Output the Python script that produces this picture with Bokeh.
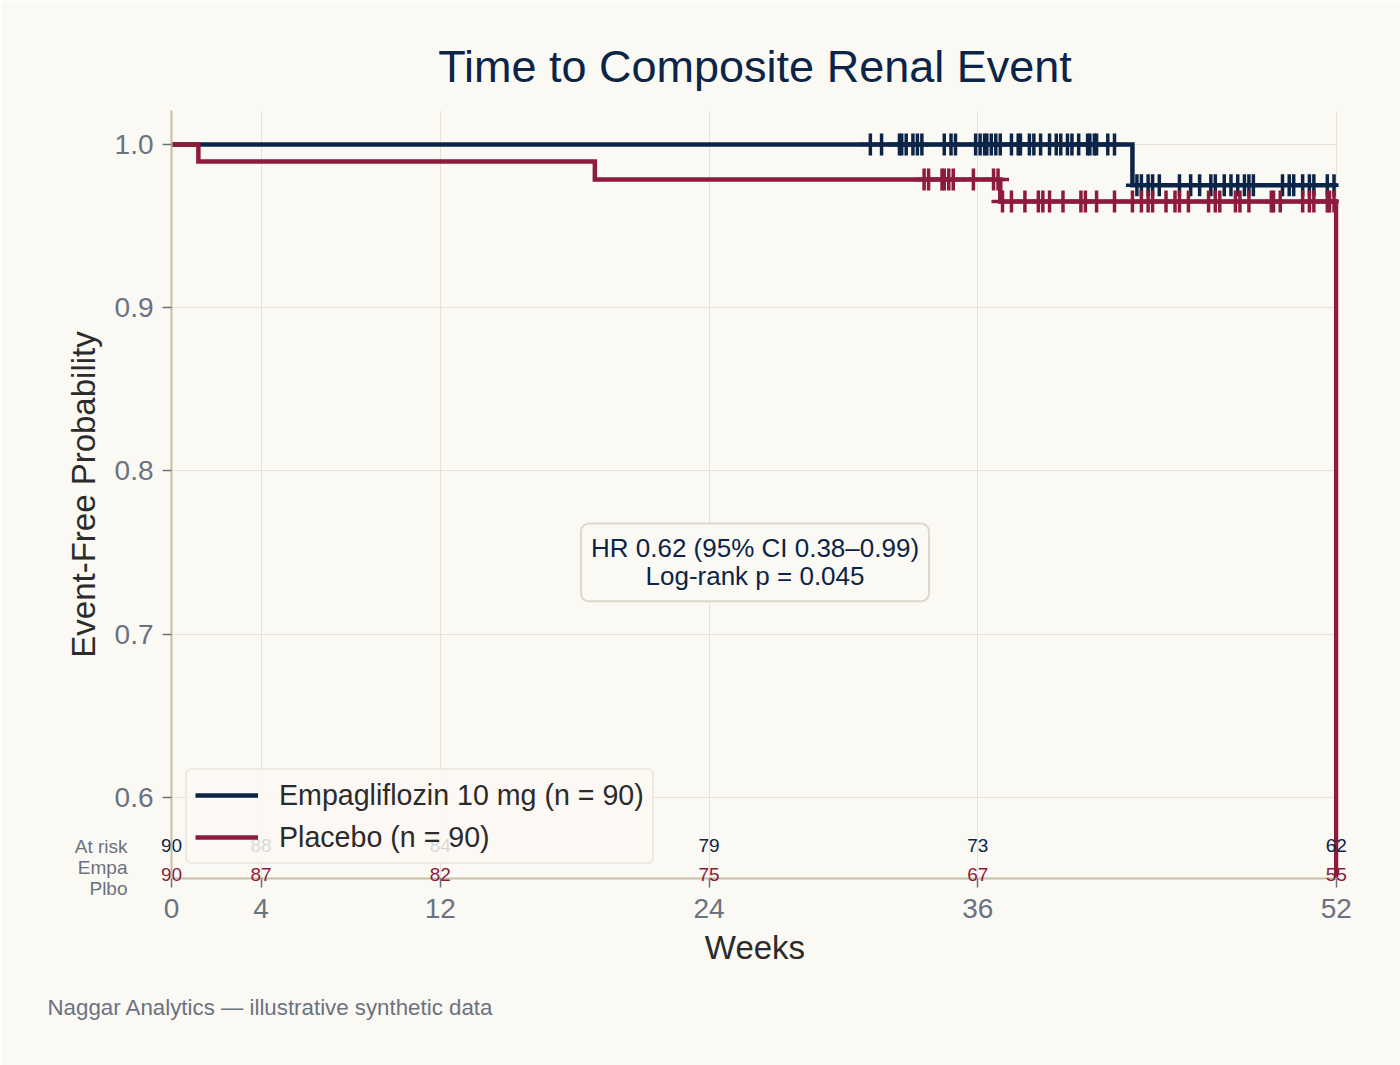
import numpy as np
from bokeh.plotting import figure
from bokeh.models import FixedTicker, PrintfTickFormatter, Label, Range1d, LinearAxis
from bokeh.embed import file_html
from bokeh.resources import INLINE

# Kaplan-Meier step points: (week, event-free probability)
empa_weeks = [0, 42.9, 52]
empa_surv = [1.0, 0.975, 0.975]
plbo_weeks = [0, 1.2, 18.9, 37.0, 52]
plbo_surv = [1.0, 0.9896, 0.9786, 0.965, 0.0]

# Censoring times (weeks)
empa_censor = [31.2, 31.7, 32.5, 32.6, 32.8, 33.1, 33.3, 33.5, 34.5, 34.8, 35.0,
               35.9, 36.1, 36.3, 36.4, 36.6, 36.8, 37.0, 37.5, 37.8, 37.9, 38.3,
               38.5, 38.8, 39.2, 39.5, 39.7, 40.0, 40.2, 40.5, 40.9, 41.0, 41.2,
               41.3, 41.8, 42.1, 43.1, 43.3, 43.6, 43.8, 44.1, 45.0, 45.5, 45.9,
               46.4, 46.6, 47.0, 47.3, 47.6, 47.9, 48.1, 48.3, 49.6, 49.9, 50.1,
               50.5, 50.8, 51.0, 51.6, 51.9]
plbo_censor = [33.6, 33.8, 34.4, 34.5, 34.7, 34.9, 35.8, 36.7, 36.9, 37.1, 37.5,
               38.1, 38.7, 38.9, 39.2, 39.8, 40.6, 40.8, 41.3, 42.1, 42.9, 43.3,
               43.6, 43.8, 44.4, 44.8, 45.0, 45.4, 46.3, 46.6, 46.8, 47.5, 47.7,
               48.1, 49.1, 49.2, 49.5, 50.5, 50.8, 51.0, 51.6, 51.7, 51.9]

# Number at risk
risk_weeks = [0, 4, 12, 24, 36, 52]
risk_empa = [90, 88, 84, 79, 73, 62]
risk_plbo = [90, 87, 82, 75, 67, 55]

x_ticks = [0, 4, 12, 24, 36, 52]
y_ticks = [0.6, 0.7, 0.8, 0.9, 1.0]

NAVY = "#0b2447"
CRIMSON = "#8c1b3c"
BG = "#fbf9f3"
GRAY = "#6b7280"
FONT = "Liberation Sans"


def surv_at(weeks, surv, times):
    idx = np.searchsorted(np.asarray(weeks), np.asarray(times), side="right") - 1
    return list(np.asarray(surv)[idx])


p = figure(width=1400, height=1065, output_backend="svg", toolbar_location=None,
           x_range=Range1d(0, 52.1), y_range=Range1d(0.5504, 1.0208),
           min_border_left=171, min_border_right=62, min_border_top=110,
           min_border_bottom=187, title="Time to Composite Renal Event")

p.background_fill_color = BG
p.border_fill_color = BG
p.outline_line_color = None

p.title.align = "center"
p.title.text_font = FONT
p.title.text_font_size = "45px"
p.title.text_font_style = "normal"
p.title.text_color = NAVY
p.title.standoff = 37

# grid
p.xgrid.ticker = FixedTicker(ticks=x_ticks)
p.ygrid.ticker = FixedTicker(ticks=y_ticks)
for g in (p.xgrid, p.ygrid):
    g.grid_line_color = "#e6e2d8"
    g.grid_line_width = 1

# axes
p.xaxis.ticker = FixedTicker(ticks=x_ticks)
p.yaxis.ticker = FixedTicker(ticks=y_ticks)
p.yaxis.formatter = PrintfTickFormatter(format="%.1f")
p.xaxis.axis_label = "Weeks"
p.yaxis.axis_label = "Event-Free Probability"
for ax in (p.xaxis, p.yaxis):
    ax.axis_line_color = "#c8bea6"
    ax.axis_line_width = 2
    ax.major_tick_line_color = GRAY
    ax.major_tick_line_width = 1.5
    ax.major_tick_out = 9
    ax.major_tick_in = 0
    ax.minor_tick_line_color = None
    ax.major_label_text_font = FONT
    ax.major_label_text_font_size = "28px"
    ax.major_label_text_color = GRAY
    ax.major_label_standoff = 9
    ax.axis_label_text_font = FONT
    ax.axis_label_text_font_size = "33px"
    ax.axis_label_text_font_style = "normal"
    ax.axis_label_text_color = "#2b2b2b"
    ax.axis_label_standoff = 10
p.xaxis.major_label_standoff = 11
p.xaxis.axis_label_standoff = 8

# survival curves and censor marks
p.step(empa_weeks, empa_surv, mode="after", line_width=4.5, color=NAVY,
       line_join="miter", legend_label="Empagliflozin 10 mg (n = 90)")
p.scatter(empa_censor, surv_at(empa_weeks, empa_surv, empa_censor), marker="cross",
          size=22, line_width=3.5, color=NAVY)
p.step(plbo_weeks, plbo_surv, mode="after", line_width=4.5, color=CRIMSON,
       line_join="miter", legend_label="Placebo (n = 90)")
p.scatter(plbo_censor, surv_at(plbo_weeks, plbo_surv, plbo_censor), marker="cross",
          size=22, line_width=3.5, color=CRIMSON)

# number-at-risk rows: label-only axes whose tick labels are lifted back up
# above the week axis with a negative standoff
for counts, standoff, color in ((risk_empa, -130, NAVY), (risk_plbo, -101, CRIMSON)):
    risk_axis = LinearAxis(
        ticker=FixedTicker(ticks=risk_weeks),
        major_label_overrides={wk: str(n) for wk, n in zip(risk_weeks, counts)},
        axis_line_color=None, major_tick_line_color=None, minor_tick_line_color=None,
        major_tick_out=0, major_tick_in=0, major_label_standoff=standoff,
        major_label_text_font=FONT, major_label_text_font_size="19px",
        major_label_text_color=color,
    )
    p.add_layout(risk_axis, "below")

p.add_layout(Label(x=127, y=867, text="At risk\nEmpa\nPlbo",
                   x_units="canvas", y_units="canvas",
                   text_align="right", text_baseline="middle", text_font=FONT,
                   text_font_size="19px", text_color=GRAY, text_line_height=1.0),
             "right")

# hazard ratio box
p.add_layout(Label(x=26.05, y=0.744,
                   text="HR 0.62 (95% CI 0.38\u20130.99)\nLog-rank p = 0.045",
                   text_align="center", text_baseline="middle", text_font=FONT,
                   text_font_size="26px", text_color=NAVY, text_line_height=0.93,
                   background_fill_color=BG, border_line_color="#ddd8cc",
                   border_line_width=2, padding=10, border_radius=8))

# footer
p.add_layout(Label(x=47, y=1007, x_units="canvas", y_units="canvas",
                   text="Naggar Analytics \u2014 illustrative synthetic data",
                   text_align="left", text_baseline="middle", text_font=FONT,
                   text_font_size="22.3px", text_color=GRAY), "below")

# legend
lg = p.legend[0]
lg.location = "bottom_left"
lg.margin = 14
lg.padding = 8
lg.spacing = 8
lg.glyph_width = 63
lg.glyph_height = 34
lg.label_height = 34
lg.label_standoff = 21
lg.label_text_font = FONT
lg.label_text_font_size = "28.6px"
lg.label_text_color = "#2b2b2b"
lg.background_fill_color = BG
lg.background_fill_alpha = 0.85
lg.border_line_color = "#ddd8cc"
lg.border_line_width = 2
lg.border_radius = 6

open("out.html", "w").write(file_html(p, INLINE))
